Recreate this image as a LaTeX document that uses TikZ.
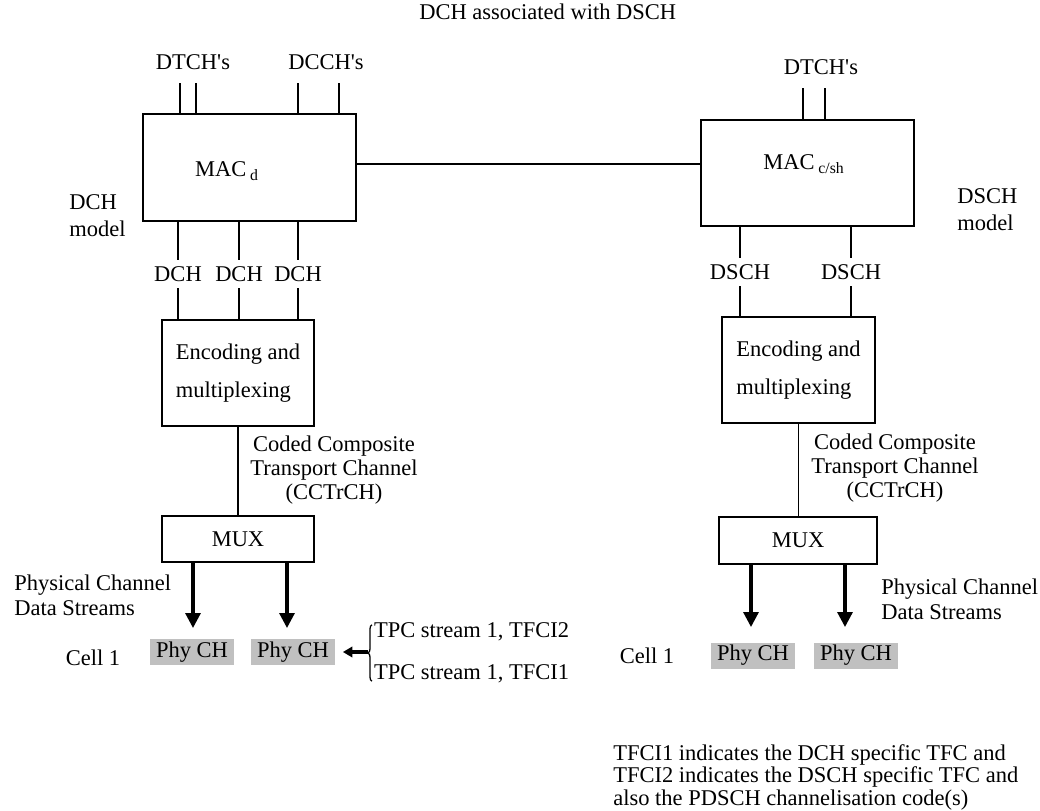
\documentclass[tikz,border=0pt]{standalone}
\usepackage{fontspec}
\setmainfont{Liberation Serif}
\usetikzlibrary{positioning, arrows.meta, decorations.pathreplacing}
\definecolor{phygray}{RGB}{192,192,192}
\newcommand{\apos}{\textquotesingle}

\begin{document}
\begin{tikzpicture}[x=0.025cm, y=-0.025cm, line width=0.9pt,
    font=\fontsize{16}{19}\selectfont,
    block/.style={rectangle, draw, inner sep=0pt},
    chan/.style={inner sep=4.2pt},
    textblock/.style={align=left, font=\fontsize{16}{#1}\selectfont},
    phych/.style={rectangle, fill=phygray, minimum width=2.1cm, minimum height=0.65cm, inner sep=0pt},
    stream/.style={line width=2.2pt, -{Triangle[length=0.37cm, width=0.37cm]}},
    tpcarrow/.style={line width=2.4pt, -{Triangle[length=0.24cm, width=0.26cm]}},
    tpcbrace/.style={decorate, decoration={brace, amplitude=0.1cm}}]
    \useasboundingbox (0,0) rectangle (1040,810);
    \node (title) at (414,12) [anchor=west] {DCH associated with DSCH};

    % DCH model
    \node (macd) at (249.5,167.5) [block, minimum width=5.325cm, minimum height=2.675cm] {};
    \node (macdlbl) at (227,171) {MAC\,\textsubscript{d}};
    \node (dtchl) at (193,62) {DTCH\apos s};
    \node (dcch) at (326,62) {DCCH\apos s};
    \coordinate (dt1) at (180,83);
    \coordinate (dt2) at (196,83);
    \coordinate (dc1) at (298,83);
    \coordinate (dc2) at (339,83);
    \draw (dt1) -- (dt1 |- macd.north);
    \draw (dt2) -- (dt2 |- macd.north);
    \draw (dc1) -- (dc1 |- macd.north);
    \draw (dc2) -- (dc2 |- macd.north);
    \node (dchmodel) at (64,216) [anchor=west, textblock=19] {DCH\\model};

    \node (dch1) at (178,274) [chan] {DCH};
    \node (dch2) at (239,274) [chan] {DCH};
    \node (dch3) at (298,274) [chan] {DCH};
    \node (encl) at (238,373) [block, minimum width=3.8cm, minimum height=2.65cm, textblock=27] {Encoding and\\multiplexing};
    \draw (macd.south -| dch1) -- (dch1.north);
    \draw (macd.south -| dch2) -- (dch2.north);
    \draw (macd.south -| dch3) -- (dch3.north);
    \draw (dch1.south) -- (encl.north -| dch1);
    \draw (dch2.south) -- (encl.north -| dch2);
    \draw (dch3.south) -- (encl.north -| dch3);

    \node (muxl) at (238,539) [block, minimum width=3.8cm, minimum height=1.15cm] {MUX};
    \draw (encl.south) -- (muxl.north);
    \node (cctl) at (245,470) [anchor=west, align=center, font=\fontsize{16}{17}\selectfont] {Coded Composite\\Transport Channel\\(CCTrCH)};

    \node (pcdsl) at (9,595) [anchor=west, textblock=18] {Physical Channel\\Data Streams};
    \node (cell1l) at (93,658) {Cell 1};
    \node (ph1) at (192,652) [phych] {Phy CH};
    \node (ph2) at (293,652) [phych] {Phy CH};
    \coordinate (s1) at (193,628);
    \coordinate (s2) at (287,628);
    \draw[stream] (s1 |- muxl.south) -- (s1);
    \draw[stream] (s2 |- muxl.south) -- (s2);

    \node (tpc2) at (372,632) [anchor=west, inner sep=1pt] {TPC stream 1, TFCI2};
    \node (tpc1) at (372,674) [anchor=west, inner sep=1pt] {TPC stream 1, TFCI1};
    \draw[tpcbrace] ([yshift=-0.18cm]tpc1.west) -- ([yshift=0.18cm]tpc2.west);
    \draw[tpcarrow] ([xshift=-0.1cm]tpc1.west |- ph2.east) -- ([xshift=0.18cm]ph2.east);

    % DSCH model
    \node (macc) at (807.5,173) [block, minimum width=5.325cm, minimum height=2.65cm] {};
    \node (macclbl) at (804,164) {MAC\,\textsubscript{c/sh}};
    \draw ([yshift=0.09cm]macd.east) -- ([yshift=0.09cm]macd.east -| macc.west);
    \node (dtchr) at (821,67) {DTCH\apos s};
    \coordinate (dt3) at (803,88);
    \coordinate (dt4) at (825,88);
    \draw (dt3) -- (dt3 |- macc.north);
    \draw (dt4) -- (dt4 |- macc.north);
    \node (dschmodel) at (952,210) [anchor=west, textblock=19] {DSCH\\model};

    \node (dsch1) at (740,272) [chan] {DSCH};
    \node (dsch2) at (851,272) [chan] {DSCH};
    \node (encr) at (798.5,370) [block, minimum width=3.825cm, minimum height=2.65cm, textblock=27] {Encoding and\\multiplexing};
    \draw (macc.south -| dsch1) -- (dsch1.north);
    \draw (macc.south -| dsch2) -- (dsch2.north);
    \draw (dsch1.south) -- (encr.north -| dsch1);
    \draw (dsch2.south) -- (encr.north -| dsch2);

    \node (muxr) at (798,540.5) [block, minimum width=3.95cm, minimum height=1.175cm] {MUX};
    \draw (encr.south) -- (encr.south |- muxr.north);
    \node (cctr) at (806,468) [anchor=west, align=center, font=\fontsize{16}{17}\selectfont] {Coded Composite\\Transport Channel\\(CCTrCH)};

    \node (pcdsr) at (876,599) [anchor=west, textblock=18] {Physical Channel\\Data Streams};
    \node (cell1r) at (647,656) {Cell 1};
    \node (ph3) at (753,655.5) [phych] {Phy CH};
    \node (ph4) at (856,655.5) [phych] {Phy CH};
    \coordinate (s3) at (751,627);
    \coordinate (s4) at (845,627);
    \draw[stream] (s3 |- muxr.south) -- (s3);
    \draw[stream] (s4 |- muxr.south) -- (s4);

    \node (tfcinote) at (608,777) [anchor=west, textblock=16] {TFCI1 indicates the DCH specific TFC and\\TFCI2 indicates the DSCH specific TFC and\\also the PDSCH channelisation code(s)};
\end{tikzpicture}
\end{document}
